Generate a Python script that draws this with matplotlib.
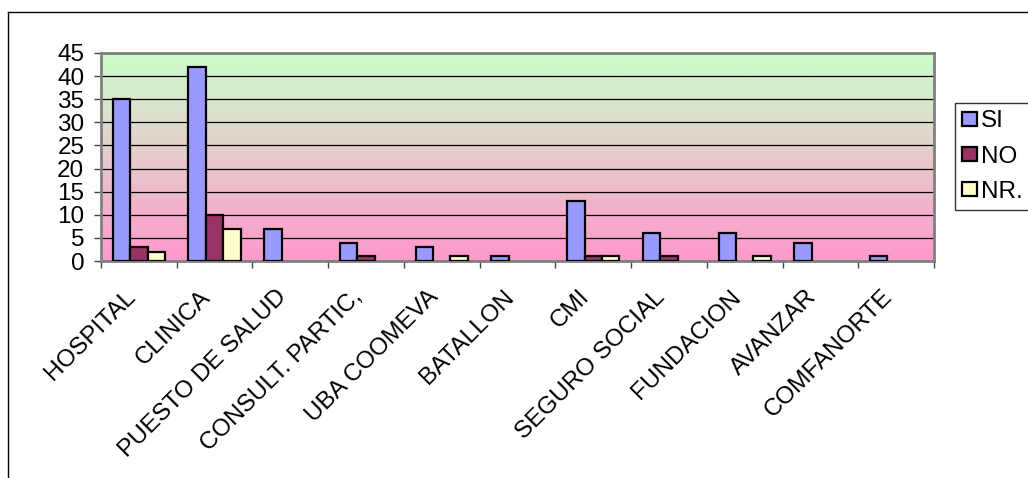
import numpy as np
import matplotlib.pyplot as plt
from matplotlib.lines import Line2D
from matplotlib.transforms import ScaledTranslation

categories = ["HOSPITAL", "CLINICA", "PUESTO DE SALUD", "CONSULT. PARTIC,",
              "UBA COOMEVA", "BATALLON", "CMI", "SEGURO SOCIAL",
              "FUNDACION", "AVANZAR", "COMFANORTE"]
si = [35, 42, 7, 4, 3, 1, 13, 6, 6, 4, 1]
no = [3, 10, 0, 1, 0, 0, 1, 1, 0, 0, 0]
nr = [2, 7, 0, 0, 1, 0, 1, 0, 1, 0, 0]
series = [("SI", si, "#9999ff"), ("NO", no, "#993366"), ("NR.", nr, "#ffffcc")]

plt.rcParams["font.family"] = ["Liberation Sans", "DejaVu Sans"]
fs = 17.5

fig = plt.figure(figsize=(10.28, 4.78), dpi=100)
ax = fig.add_axes([101 / 1028, 1 - 261 / 478, 833 / 1028, 208 / 478])

# fondo degradado verde -> rosa
top = np.array([204, 255, 204]) / 255
bot = np.array([255, 153, 204]) / 255
t = np.linspace(0, 1, 256)[:, None]
grad = (top * (1 - t) + bot * t)[:, None, :]
ax.imshow(grad, extent=[0, 1, 0, 1], transform=ax.transAxes,
          aspect="auto", zorder=0, interpolation="bilinear")

x = np.arange(len(categories))
w = 0.23
for i, (name, vals, color) in enumerate(series):
    lw = [1.6 if v else 0 for v in vals]  # las barras en cero no se dibujan
    ax.bar(x + (i - 1) * w, vals, width=w, color=color, edgecolor="black",
           linewidth=lw, label=name, zorder=3)

ax.set_xlim(-0.5, len(categories) - 0.5)
ax.set_ylim(0, 45)
ax.set_yticks(range(0, 46, 5))
ax.yaxis.grid(True, color="black", linewidth=0.9, zorder=1)
ax.set_axisbelow(True)

ax.set_xticks(x)
ax.set_xticklabels(categories, rotation=45, ha="right", rotation_mode="anchor",
                   fontsize=fs)
ax.set_xticks(np.arange(-0.5, len(categories)), minor=True)
ax.tick_params(axis="x", which="major", length=0, pad=18)
ax.tick_params(axis="x", which="minor", length=5, width=1, color="#444444")
ax.tick_params(axis="y", length=5, width=1, labelsize=fs, pad=7, color="#444444")
shift = ScaledTranslation(-15 / 100, 0, fig.dpi_scale_trans)
for lbl in ax.get_xticklabels():
    lbl.set_transform(lbl.get_transform() + shift)

for s in ax.spines.values():
    s.set_color("#808080")
    s.set_linewidth(2)

leg = fig.legend(loc="upper left", bbox_to_anchor=(955 / 1028, 1 - 103 / 478),
                 fontsize=fs, frameon=True, fancybox=False, shadow=False,
                 handlelength=0.6, handleheight=0.5, handletextpad=0.15,
                 labelspacing=0.55, borderpad=0.3, borderaxespad=0)
leg.get_frame().set_edgecolor("black")
leg.get_frame().set_linewidth(1)
for h in leg.legend_handles:
    h.set_linewidth(1.6)

# marco exterior
fig.add_artist(Line2D([8 / 1028, 8 / 1028], [0, 1 - 12 / 478],
                      transform=fig.transFigure, color="black", linewidth=1))
fig.add_artist(Line2D([8 / 1028, 1], [1 - 12 / 478, 1 - 12 / 478],
                      transform=fig.transFigure, color="black", linewidth=1))

fig.savefig("out.png", dpi=100)
